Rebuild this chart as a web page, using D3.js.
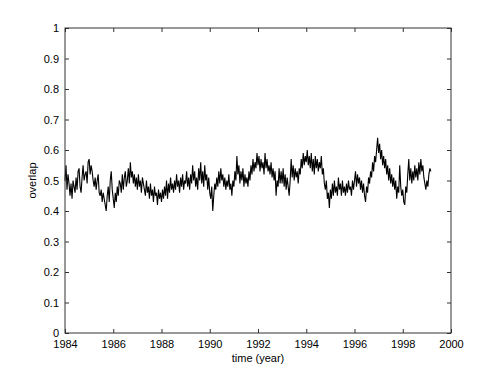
<!DOCTYPE html>
<html>
<head>
<meta charset="utf-8">
<script src="https://cdn.jsdelivr.net/npm/d3@7"></script>
<style>
  body { margin: 0; background: #fff; }
  text { font-family: "Liberation Sans", Arial, Helvetica, sans-serif; }
</style>
</head>
<body>
<div class="canvas"></div>
<script>
// time axis of the samples (half-month steps from 1984)
const startYear = 1984;
const step = 1 / 24;

// overlap values, one row per year
const overlap = [
  // 1984
  0.50, 0.55, 0.47, 0.52, 0.49, 0.45, 0.49, 0.44, 0.50, 0.48, 0.46, 0.51, 0.47, 0.53, 0.54, 0.48, 0.46, 0.51, 0.55, 0.50, 0.52, 0.53, 0.49, 0.56,
  // 1985
  0.57, 0.52, 0.55, 0.53, 0.50, 0.48, 0.51, 0.47, 0.50, 0.52, 0.46, 0.45, 0.47, 0.43, 0.46, 0.44, 0.42, 0.40, 0.45, 0.48, 0.43, 0.50, 0.53, 0.47,
  // 1986
  0.44, 0.41, 0.46, 0.43, 0.48, 0.45, 0.50, 0.49, 0.46, 0.52, 0.47, 0.51, 0.53, 0.48, 0.50, 0.54, 0.49, 0.56, 0.51, 0.53, 0.49, 0.52, 0.48, 0.51,
  // 1987
  0.47, 0.52, 0.48, 0.50, 0.46, 0.51, 0.49, 0.47, 0.45, 0.50, 0.46, 0.48, 0.44, 0.49, 0.45, 0.47, 0.43, 0.48, 0.45, 0.46, 0.42, 0.47, 0.44, 0.46,
  // 1988
  0.43, 0.47, 0.44, 0.48, 0.45, 0.50, 0.44, 0.49, 0.46, 0.51, 0.47, 0.49, 0.46, 0.50, 0.47, 0.52, 0.48, 0.50, 0.46, 0.51, 0.48, 0.52, 0.47, 0.50,
  // 1989
  0.49, 0.53, 0.48, 0.51, 0.47, 0.52, 0.49, 0.55, 0.50, 0.53, 0.48, 0.51, 0.47, 0.54, 0.50, 0.56, 0.49, 0.53, 0.48, 0.55, 0.50, 0.52, 0.47, 0.51,
  // 1990
  0.46, 0.44, 0.48, 0.40, 0.45, 0.49, 0.47, 0.51, 0.48, 0.53, 0.49, 0.54, 0.50, 0.52, 0.48, 0.51, 0.47, 0.50, 0.48, 0.52, 0.47, 0.49, 0.45, 0.50,
  // 1991
  0.48, 0.53, 0.50, 0.58, 0.52, 0.55, 0.49, 0.53, 0.50, 0.54, 0.48, 0.52, 0.49, 0.51, 0.48, 0.53, 0.50, 0.55, 0.52, 0.57, 0.53, 0.56, 0.54, 0.59,
  // 1992
  0.55, 0.58, 0.53, 0.57, 0.54, 0.56, 0.52, 0.59, 0.54, 0.57, 0.53, 0.55, 0.52, 0.56, 0.51, 0.54, 0.50, 0.53, 0.45, 0.50, 0.48, 0.54, 0.49, 0.53,
  // 1993
  0.49, 0.54, 0.48, 0.52, 0.47, 0.51, 0.48, 0.45, 0.50, 0.57, 0.51, 0.55, 0.50, 0.54, 0.51, 0.53, 0.49, 0.54, 0.52, 0.57, 0.54, 0.59, 0.55, 0.58,
  // 1994
  0.56, 0.60, 0.55, 0.58, 0.54, 0.59, 0.53, 0.57, 0.52, 0.58, 0.54, 0.57, 0.53, 0.56, 0.54, 0.58, 0.52, 0.54, 0.49, 0.47, 0.50, 0.44, 0.46, 0.41,
  // 1995
  0.47, 0.44, 0.49, 0.45, 0.50, 0.46, 0.48, 0.45, 0.51, 0.47, 0.49, 0.45, 0.50, 0.46, 0.48, 0.45, 0.49, 0.46, 0.50, 0.47, 0.48, 0.45, 0.50, 0.47,
  // 1996
  0.50, 0.53, 0.48, 0.52, 0.49, 0.51, 0.47, 0.50, 0.46, 0.49, 0.45, 0.43, 0.48, 0.46, 0.51, 0.49, 0.53, 0.51, 0.56, 0.53, 0.58, 0.56, 0.60, 0.64,
  // 1997
  0.59, 0.62, 0.57, 0.60, 0.55, 0.58, 0.54, 0.57, 0.52, 0.55, 0.50, 0.54, 0.49, 0.52, 0.48, 0.51, 0.47, 0.50, 0.44, 0.48, 0.46, 0.55, 0.48, 0.45,
  // 1998
  0.47, 0.43, 0.42, 0.48, 0.46, 0.52, 0.57, 0.50, 0.54, 0.49, 0.53, 0.50, 0.55, 0.51, 0.54, 0.50, 0.56, 0.52, 0.57, 0.53, 0.55, 0.51, 0.49, 0.47,
  // 1999
  0.50, 0.48, 0.52, 0.54, 0.53
];

const xTicks = [1984, 1986, 1988, 1990, 1992, 1994, 1996, 1998, 2000];
const yTicks = [0, 0.1, 0.2, 0.3, 0.4, 0.5, 0.6, 0.7, 0.8, 0.9, 1];

// svg & dimensions
const svg = d3.select('.canvas')
  .append('svg')
    .attr('width', 498)
    .attr('height', 375);

const margin = {top: 28, right: 47, bottom: 42, left: 65};
const graphWidth = 498 - margin.left - margin.right;
const graphHeight = 375 - margin.top - margin.bottom;

const graph = svg.append('g')
  .attr('transform', `translate(${margin.left}, ${margin.top})`);

const x = d3.scaleLinear()
  .domain([1984, 2000])
  .range([0, graphWidth]);

const y = d3.scaleLinear()
  .domain([0, 1])
  .range([graphHeight, 0]);

// data line
const line = d3.line()
  .x((d, i) => x(startYear + i * step))
  .y(d => y(d));

graph.append('path')
  .datum(overlap)
  .attr('d', line)
  .attr('fill', 'none')
  .attr('stroke', '#000')
  .attr('stroke-width', 1.1);

// axes, ticks pointing inward on all four sides
const axisColor = '#333';
const tickLen = 4;

const styleAxis = g => {
  g.select('.domain').remove();
  g.selectAll('line').attr('stroke', axisColor);
  g.selectAll('text')
    .attr('fill', '#000')
    .style('font-size', '11px');
};

graph.append('g')
  .attr('transform', `translate(0, ${graphHeight})`)
  .call(d3.axisBottom(x).tickValues(xTicks).tickFormat(d3.format('d'))
    .tickSizeInner(-tickLen).tickSizeOuter(0).tickPadding(7))
  .call(styleAxis);

graph.append('g')
  .call(d3.axisLeft(y).tickValues(yTicks).tickFormat(d => d === 0 || d === 1 ? d : d3.format('.1f')(d))
    .tickSizeInner(-tickLen).tickSizeOuter(0).tickPadding(6))
  .call(styleAxis);

graph.append('g')
  .call(d3.axisTop(x).tickValues(xTicks).tickFormat('')
    .tickSizeInner(-tickLen).tickSizeOuter(0))
  .call(styleAxis);

graph.append('g')
  .attr('transform', `translate(${graphWidth}, 0)`)
  .call(d3.axisRight(y).tickValues(yTicks).tickFormat('')
    .tickSizeInner(-tickLen).tickSizeOuter(0))
  .call(styleAxis);

// box
graph.append('rect')
  .attr('width', graphWidth)
  .attr('height', graphHeight)
  .attr('fill', 'none')
  .attr('stroke', axisColor)
  .attr('stroke-width', 1);

// axis labels
svg.append('text')
  .attr('x', margin.left + graphWidth / 2)
  .attr('y', 362)
  .attr('text-anchor', 'middle')
  .style('font-size', '11px')
  .text('time (year)');

svg.append('text')
  .attr('transform', `translate(36, ${margin.top + graphHeight / 2}) rotate(-90)`)
  .attr('text-anchor', 'middle')
  .style('font-size', '11px')
  .text('overlap');
</script>
</body>
</html>
